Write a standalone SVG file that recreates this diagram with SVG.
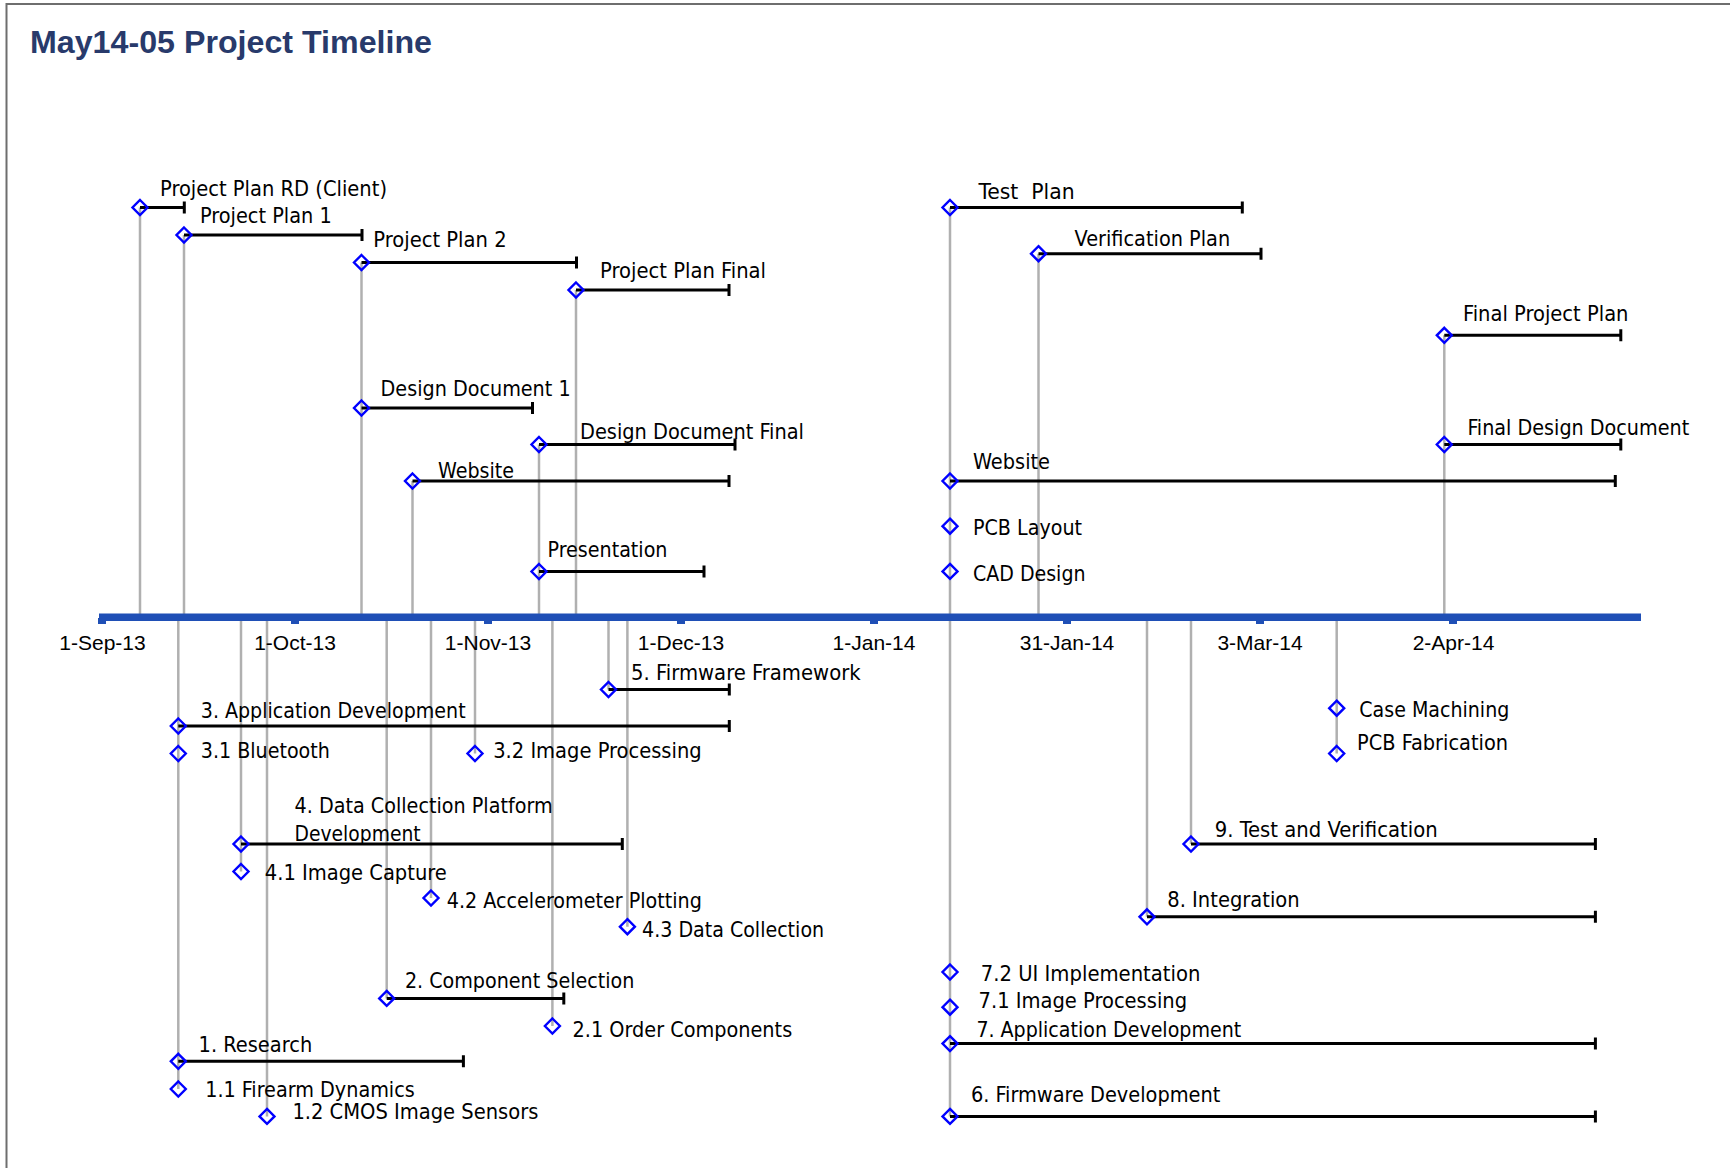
<svg xmlns="http://www.w3.org/2000/svg" xmlns:xlink="http://www.w3.org/1999/xlink" width="1730" height="1168" viewBox="0 0 1730 1168">
<style>
.title{font-family:"Liberation Sans",Arial,sans-serif;font-weight:bold;font-size:32px;fill:#283a6b}
.lbl{font-family:"DejaVu Sans Condensed","DejaVu Sans",sans-serif;font-stretch:condensed;font-size:21px;fill:#000;white-space:pre}
.ax{font-family:"Liberation Sans",Arial,sans-serif;font-size:21px;fill:#000;text-anchor:middle}
.bar{stroke:#000;stroke-width:3;fill:none}
.stem{stroke:#b0b0b0;stroke-width:2.5;fill:none}
.dia{fill:none;stroke:#0000ff;stroke-width:2.4}
.frame{stroke:#6e6e6e;stroke-width:2;fill:none}
.axis{fill:#1f4fb6}
</style>
<defs>
<path id="dm" class="dia" d="M0,-7.5 L7.5,0 L0,7.5 L-7.5,0 Z"/>
</defs>
<rect width="1730" height="1168" fill="#fff"/>
<path class="frame" d="M6.5,1168 V4 H1730"/>
<g transform="translate(0,1)">
<text class="title" x="30" y="52" textLength="402" lengthAdjust="spacingAndGlyphs">May14-05 Project Timeline</text>

<g id="connectors">
<path class="stem" d="M140,206.5 V613"/>
<path class="stem" d="M184,234 V613"/>
<path class="stem" d="M361.5,261.5 V613"/>
<path class="stem" d="M412.5,480 V613"/>
<path class="stem" d="M539,443.5 V613"/>
<path class="stem" d="M576,289 V613"/>
<path class="stem" d="M950,206.5 V1115.4"/>
<path class="stem" d="M1038.5,252.7 V613"/>
<path class="stem" d="M1444.3,334.3 V613"/>
<path class="stem" d="M178.3,620 V1088"/>
<path class="stem" d="M241,620 V870.5"/>
<path class="stem" d="M267,620 V1115.4"/>
<path class="stem" d="M386.7,620 V997.4"/>
<path class="stem" d="M431,620 V897"/>
<path class="stem" d="M475,620 V752.5"/>
<path class="stem" d="M552.4,620 V1025"/>
<path class="stem" d="M608.5,620 V688.5"/>
<path class="stem" d="M627.4,620 V925.7"/>
<path class="stem" d="M1147,620 V915.8"/>
<path class="stem" d="M1191,620 V843"/>
<path class="stem" d="M1336.7,620 V752.5"/>
</g>

<g id="axis">
<rect class="axis" x="99" y="612.5" width="1542" height="7.5"/>
<rect class="axis" x="98" y="617" width="8" height="6"/>
<rect class="axis" x="291" y="617" width="8" height="6"/>
<rect class="axis" x="484" y="617" width="8" height="6"/>
<rect class="axis" x="677" y="617" width="8" height="6"/>
<rect class="axis" x="870" y="617" width="8" height="6"/>
<rect class="axis" x="1063" y="617" width="8" height="6"/>
<rect class="axis" x="1256" y="617" width="8" height="6"/>
<rect class="axis" x="1449" y="617" width="8" height="6"/>
<text class="ax" x="102.5" y="649.3">1-Sep-13</text>
<text class="ax" x="295" y="649.3">1-Oct-13</text>
<text class="ax" x="488" y="649.3">1-Nov-13</text>
<text class="ax" x="681" y="649.3">1-Dec-13</text>
<text class="ax" x="874" y="649.3">1-Jan-14</text>
<text class="ax" x="1067" y="649.3">31-Jan-14</text>
<text class="ax" x="1260" y="649.3">3-Mar-14</text>
<text class="ax" x="1453.5" y="649.3">2-Apr-14</text>
</g>

<g id="n1"><path class="bar" d="M140,206.5 H184.3 M184.3,200.5 V212.5"/><use xlink:href="#dm" x="140" y="206.5"/><text class="lbl" x="160" y="195" textLength="227" lengthAdjust="spacingAndGlyphs">Project Plan RD (Client)</text></g>
<g id="n2"><path class="bar" d="M184,234 H362 M362,228 V240"/><use xlink:href="#dm" x="184" y="234"/><text class="lbl" x="200" y="221.7" textLength="131.7" lengthAdjust="spacingAndGlyphs">Project Plan 1</text></g>
<g id="n3"><path class="bar" d="M361.5,261.5 H576.5 M576.5,255.5 V267.5"/><use xlink:href="#dm" x="361.5" y="261.5"/><text class="lbl" x="373.3" y="246" textLength="133.3" lengthAdjust="spacingAndGlyphs">Project Plan 2</text></g>
<g id="n4"><path class="bar" d="M576,289 H729 M729,283 V295"/><use xlink:href="#dm" x="576" y="289"/><text class="lbl" x="600" y="276.7" textLength="166" lengthAdjust="spacingAndGlyphs">Project Plan Final</text></g>
<g id="n5"><path class="bar" d="M361.5,407 H532.5 M532.5,401 V413"/><use xlink:href="#dm" x="361.5" y="407"/><text class="lbl" x="380.6" y="394.5" textLength="190" lengthAdjust="spacingAndGlyphs">Design Document 1</text></g>
<g id="n6"><path class="bar" d="M539,443.5 H735 M735,437.5 V449.5"/><use xlink:href="#dm" x="539" y="443.5"/><text class="lbl" x="580" y="438" textLength="224" lengthAdjust="spacingAndGlyphs">Design Document Final</text></g>
<g id="n7"><path class="bar" d="M412.5,480 H729 M729,474 V486"/><use xlink:href="#dm" x="412.5" y="480"/><text class="lbl" x="438" y="477" textLength="76" lengthAdjust="spacingAndGlyphs">Website</text></g>
<g id="n8"><path class="bar" d="M539,570.5 H704 M704,564.5 V576.5"/><use xlink:href="#dm" x="539" y="570.5"/><text class="lbl" x="547.5" y="556" textLength="120" lengthAdjust="spacingAndGlyphs">Presentation</text></g>
<g id="n9"><path class="bar" d="M950,206.5 H1242.3 M1242.3,200.5 V212.5"/><use xlink:href="#dm" x="950" y="206.5"/><text class="lbl" x="978.6" y="197.8" textLength="96" lengthAdjust="spacingAndGlyphs" xml:space="preserve">Test  Plan</text></g>
<g id="n10"><path class="bar" d="M1038.5,252.7 H1261 M1261,246.7 V258.7"/><use xlink:href="#dm" x="1038.5" y="252.7"/><text class="lbl" x="1074.6" y="245" textLength="155.6" lengthAdjust="spacingAndGlyphs">Verification Plan</text></g>
<g id="n11"><path class="bar" d="M1444.3,334.3 H1620.8 M1620.8,328.3 V340.3"/><use xlink:href="#dm" x="1444.3" y="334.3"/><text class="lbl" x="1463" y="320" textLength="165.5" lengthAdjust="spacingAndGlyphs">Final Project Plan</text></g>
<g id="n12"><path class="bar" d="M1444.3,443.5 H1620.8 M1620.8,437.5 V449.5"/><use xlink:href="#dm" x="1444.3" y="443.5"/><text class="lbl" x="1467.4" y="434" textLength="221.8" lengthAdjust="spacingAndGlyphs">Final Design Document</text></g>
<g id="n13"><path class="bar" d="M950,480 H1615.3 M1615.3,474 V486"/><use xlink:href="#dm" x="950" y="480"/><text class="lbl" x="973" y="468" textLength="77" lengthAdjust="spacingAndGlyphs">Website</text></g>
<g id="n14"><use xlink:href="#dm" x="950" y="525.2"/><text class="lbl" x="973" y="534.3" textLength="109" lengthAdjust="spacingAndGlyphs">PCB Layout</text></g>
<g id="n15"><use xlink:href="#dm" x="950" y="570.4"/><text class="lbl" x="973" y="579.5" textLength="112.5" lengthAdjust="spacingAndGlyphs">CAD Design</text></g>

<g id="n16"><path class="bar" d="M608.5,688.5 H729.3 M729.3,682.5 V694.5"/><use xlink:href="#dm" x="608.5" y="688.5"/><text class="lbl" x="631.1" y="678.8" textLength="229.5" lengthAdjust="spacingAndGlyphs">5. Firmware Framework</text></g>
<g id="n17"><path class="bar" d="M178.3,725 H729.3 M729.3,719 V731"/><use xlink:href="#dm" x="178.3" y="725"/><text class="lbl" x="200.8" y="717.4" textLength="264.8" lengthAdjust="spacingAndGlyphs">3. Application Development</text></g>
<g id="n18"><use xlink:href="#dm" x="178.3" y="752.5"/><text class="lbl" x="200.8" y="757" textLength="129" lengthAdjust="spacingAndGlyphs">3.1 Bluetooth</text></g>
<g id="n19"><use xlink:href="#dm" x="475" y="752.5"/><text class="lbl" x="493.2" y="757" textLength="208.5" lengthAdjust="spacingAndGlyphs">3.2 Image Processing</text></g>
<g id="n20"><path class="bar" d="M241,843 H622.3 M622.3,837 V849"/><use xlink:href="#dm" x="241" y="843"/><text class="lbl" x="294.6" y="812.3" textLength="258" lengthAdjust="spacingAndGlyphs">4. Data Collection Platform</text><text class="lbl" x="294.6" y="839.9" textLength="126" lengthAdjust="spacingAndGlyphs">Development</text></g>
<g id="n21"><use xlink:href="#dm" x="241" y="870.5"/><text class="lbl" x="264.8" y="878.5" textLength="182" lengthAdjust="spacingAndGlyphs">4.1 Image Capture</text></g>
<g id="n22"><use xlink:href="#dm" x="431" y="897"/><text class="lbl" x="446.8" y="907.2" textLength="255" lengthAdjust="spacingAndGlyphs">4.2 Accelerometer Plotting</text></g>
<g id="n23"><use xlink:href="#dm" x="627.4" y="925.7"/><text class="lbl" x="642.1" y="935.9" textLength="182" lengthAdjust="spacingAndGlyphs">4.3 Data Collection</text></g>
<g id="n24"><path class="bar" d="M386.7,997.4 H563.8 M563.8,991.4 V1003.4"/><use xlink:href="#dm" x="386.7" y="997.4"/><text class="lbl" x="404.9" y="986.6" textLength="229.5" lengthAdjust="spacingAndGlyphs">2. Component Selection</text></g>
<g id="n25"><use xlink:href="#dm" x="552.4" y="1025"/><text class="lbl" x="572.6" y="1036.3" textLength="219.6" lengthAdjust="spacingAndGlyphs">2.1 Order Components</text></g>
<g id="n26"><path class="bar" d="M178.3,1060.3 H463.4 M463.4,1054.3 V1066.3"/><use xlink:href="#dm" x="178.3" y="1060.3"/><text class="lbl" x="198.6" y="1050.6" textLength="113.6" lengthAdjust="spacingAndGlyphs">1. Research</text></g>
<g id="n27"><use xlink:href="#dm" x="178.3" y="1088"/><text class="lbl" x="205.2" y="1095.9" textLength="209.6" lengthAdjust="spacingAndGlyphs">1.1 Firearm Dynamics</text></g>
<g id="n28"><use xlink:href="#dm" x="267" y="1115.4"/><text class="lbl" x="292.4" y="1118" textLength="246" lengthAdjust="spacingAndGlyphs">1.2 CMOS Image Sensors</text></g>
<g id="n29"><use xlink:href="#dm" x="1336.7" y="707.2"/><text class="lbl" x="1359.3" y="716.3" textLength="150" lengthAdjust="spacingAndGlyphs">Case Machining</text></g>
<g id="n30"><use xlink:href="#dm" x="1336.7" y="752.5"/><text class="lbl" x="1357.1" y="749.4" textLength="151" lengthAdjust="spacingAndGlyphs">PCB Fabrication</text></g>
<g id="n31"><path class="bar" d="M1191,843 H1595.4 M1595.4,837 V849"/><use xlink:href="#dm" x="1191" y="843"/><text class="lbl" x="1214.7" y="835.5" textLength="223" lengthAdjust="spacingAndGlyphs">9. Test and Verification</text></g>
<g id="n32"><path class="bar" d="M1147,915.8 H1595.4 M1595.4,909.8 V921.8"/><use xlink:href="#dm" x="1147" y="915.8"/><text class="lbl" x="1167.3" y="906.1" textLength="132.4" lengthAdjust="spacingAndGlyphs">8. Integration</text></g>
<g id="n33"><use xlink:href="#dm" x="950" y="971"/><text class="lbl" x="980.8" y="980" textLength="219.6" lengthAdjust="spacingAndGlyphs">7.2 UI Implementation</text></g>
<g id="n34"><use xlink:href="#dm" x="950" y="1006.2"/><text class="lbl" x="978.6" y="1006.5" textLength="208.5" lengthAdjust="spacingAndGlyphs">7.1 Image Processing</text></g>
<g id="n35"><path class="bar" d="M950,1042.6 H1595.4 M1595.4,1036.6 V1048.6"/><use xlink:href="#dm" x="950" y="1042.6"/><text class="lbl" x="976.4" y="1036.3" textLength="264.8" lengthAdjust="spacingAndGlyphs">7. Application Development</text></g>
<g id="n36"><path class="bar" d="M950,1115.4 H1595.4 M1595.4,1109.4 V1121.4"/><use xlink:href="#dm" x="950" y="1115.4"/><text class="lbl" x="970.9" y="1101.4" textLength="249.4" lengthAdjust="spacingAndGlyphs">6. Firmware Development</text></g>
</g>
</svg>
